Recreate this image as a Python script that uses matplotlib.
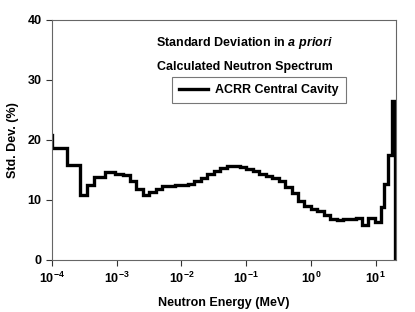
import matplotlib
matplotlib.use("Agg")
import matplotlib.pyplot as plt
import numpy as np

plt.rcParams['font.family'] = ['Liberation Sans', 'DejaVu Sans']
plt.rcParams['mathtext.fontset'] = 'custom'
plt.rcParams['mathtext.rm'] = 'Liberation Sans:bold'
plt.rcParams['mathtext.bf'] = 'Liberation Sans:bold'
plt.rcParams['mathtext.it'] = 'Liberation Sans:bold:italic'
plt.rcParams['mathtext.default'] = 'rm'

# bin edges (MeV) and std. dev. (%) per bin
edges = [9.0e-5, 1.01e-4, 1.7e-4, 2.7e-4, 3.44e-4, 4.5e-4, 6.6e-4, 9.4e-4, 1.26e-3,
         1.585e-3, 1.995e-3, 2.512e-3, 3.162e-3, 3.981e-3, 5.012e-3, 6.310e-3, 7.943e-3,
         1.0e-2, 1.259e-2, 1.585e-2, 1.995e-2, 2.512e-2, 3.162e-2, 3.981e-2, 5.012e-2,
         6.310e-2, 7.943e-2, 0.1, 0.1259, 0.1585, 0.1995, 0.2512, 0.3162, 0.3981,
         0.5012, 0.6310, 0.7943, 1.0, 1.259, 1.585, 1.995, 2.512, 3.162, 3.981, 5.012,
         6.07, 7.5, 9.7, 11.9, 13.3, 15.3, 17.7, 20.0]
std_dev = [20.8, 18.7, 15.9, 10.8, 12.5, 13.8, 14.6, 14.4,
           14.1, 13.2, 11.9, 10.8, 11.3, 11.8, 12.3, 12.4, 12.5,
           12.5, 12.7, 13.1, 13.6, 14.3, 14.9, 15.3, 15.6,
           15.7, 15.5, 15.2, 14.8, 14.4, 14.0, 13.6, 13.1, 12.2,
           11.1, 9.9, 9.0, 8.5, 8.1, 7.5, 6.9, 6.6, 6.8, 6.9, 7.0,
           5.8, 7.0, 6.3, 8.8, 12.7, 17.5, 26.5]

xticks = [1e-4, 1e-3, 1e-2, 1e-1, 1e0, 1e1]
xticklabels = [r'$10^{-4}$', r'$10^{-3}$', r'$10^{-2}$',
               r'$10^{-1}$', r'$10^{0}$', r'$10^{1}$']
yticks = [0, 10, 20, 30, 40]

fig = plt.figure(figsize=(4.15, 3.12), dpi=100)
ax = fig.add_axes([0.125, 0.167, 0.829, 0.769])

ax.stairs(std_dev, edges, baseline=0, color='black', linewidth=2.4,
          label='ACRR Central Cavity')

ax.set_xscale('log')
ax.set_xlim(1e-4, 20.5)
ax.set_ylim(0, 40)
ax.set_xticks(xticks)
ax.set_xticklabels(xticklabels)
ax.xaxis.set_minor_locator(matplotlib.ticker.NullLocator())
ax.set_yticks(yticks)
ax.tick_params(axis='both', direction='out', length=4, width=0.8, labelsize=9,
               colors='#333333', labelcolor='black')
for lbl in ax.get_yticklabels():
    lbl.set_fontweight('bold')
for s in ax.spines.values():
    s.set_color('#666666')
    s.set_linewidth(0.8)

ax.set_xlabel('Neutron Energy (MeV)', fontsize=9, fontweight='bold', labelpad=8)
ax.set_ylabel('Std. Dev. (%)', fontsize=9, fontweight='bold', labelpad=6)

fig.text(333 / 415, 1 - 43 / 312, r'Standard Deviation in $\mathit{a\ priori}$',
         ha='right', va='center', fontsize=9, fontweight='bold')
fig.text(333 / 415, 1 - 67 / 312, 'Calculated Neutron Spectrum',
         ha='right', va='center', fontsize=9, fontweight='bold')

leg = ax.legend(loc='upper left', bbox_to_anchor=(172 / 415, 1 - 77 / 312),
                bbox_transform=fig.transFigure, frameon=True, borderaxespad=0,
                fancybox=False, handlelength=2.3, handletextpad=0.6, borderpad=0.55,
                prop={'weight': 'bold', 'size': 9})
leg.get_frame().set_edgecolor('#555555')
leg.get_frame().set_linewidth(0.8)

fig.savefig('out.png', dpi=100)
